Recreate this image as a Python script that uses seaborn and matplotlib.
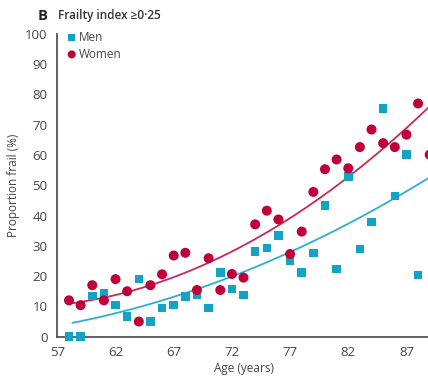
import numpy as np
import pandas as pd
import seaborn as sns
import matplotlib
matplotlib.use("Agg")
import matplotlib.pyplot as plt

# ---- data ----
men_age = [58, 59, 60, 61, 62, 63, 64, 65, 66, 67, 68, 69, 70, 71, 72, 73, 74, 75,
           76, 77, 78, 79, 80, 81, 82, 83, 84, 85, 86, 87, 88]
men_frail = [0, 0, 13.5, 14.4, 10.4, 6.7, 19.0, 5.0, 9.5, 10.4, 13.3, 13.9, 9.5, 21.2,
             15.8, 13.7, 28.1, 29.3, 33.5, 25.2, 21.1, 27.7, 43.3, 22.3, 52.8, 28.9,
             37.9, 75.3, 46.5, 60.1, 20.3]
women_age = [58, 59, 60, 61, 62, 63, 64, 65, 66, 67, 68, 69, 70, 71, 72, 73, 74, 75,
             76, 77, 78, 79, 80, 81, 82, 83, 84, 85, 86, 87, 88, 89]
women_frail = [12.0, 10.4, 17.0, 12.0, 19.0, 15.0, 5.0, 17.0, 20.6, 26.8, 27.7, 15.4,
               25.9, 15.4, 20.7, 19.5, 37.1, 41.6, 38.7, 27.3, 34.7, 47.8, 55.3, 58.5,
               55.6, 62.6, 68.4, 63.9, 62.6, 66.7, 77.0, 60.1]
x_ticks = [57, 62, 67, 72, 77, 82, 87]
y_ticks = [0, 10, 20, 30, 40, 50, 60, 70, 80, 90, 100]

men = pd.DataFrame({"age": men_age, "frail": men_frail})
women = pd.DataFrame({"age": women_age, "frail": women_frail})

MEN_C = "#13a3c4"
WOMEN_C = "#c0003a"
TXT = "#444444"

sns.set_style("white")
plt.rcParams["font.family"] = ["Open Sans", "DejaVu Sans"]

fig = plt.figure(figsize=(4.28, 3.80), dpi=100)
ax = fig.add_axes([0.134, 0.114, 0.870, 0.797])
ax.set_xlim(57, 89)
ax.set_ylim(0, 100)

# fitted curves
sns.regplot(data=women, x="age", y="frail", order=2, ci=None, scatter=False,
            truncate=True, ax=ax, line_kws=dict(color="#c8285a", lw=1.3))
sns.regplot(data=men, x="age", y="frail", order=2, ci=None, scatter=False,
            truncate=False, ax=ax, line_kws=dict(color="#2cb0cc", lw=1.3))
# start men's curve at first age like the reference
ln = ax.lines[-1]
xd, yd = ln.get_xdata(), ln.get_ydata()
keep = np.asarray(xd) >= men_age[0]
ln.set_data(np.asarray(xd)[keep], np.asarray(yd)[keep])

sns.scatterplot(data=men, x="age", y="frail", marker="s", s=38, color=MEN_C,
                edgecolor="none", ax=ax, label="Men", clip_on=False, zorder=3)
sns.scatterplot(data=women, x="age", y="frail", marker="o", s=52, color=WOMEN_C,
                edgecolor="none", ax=ax, label="Women", zorder=3)
ax.set_xlim(57, 89)
ax.set_ylim(0, 100)

ax.set_xticks(x_ticks)
ax.set_yticks(y_ticks)
ax.tick_params(axis="both", direction="out", length=5, width=1.2, color="#555555",
               labelsize=9.5, labelcolor=TXT, pad=2)
for s in ["top", "right"]:
    ax.spines[s].set_visible(False)
for s in ["left", "bottom"]:
    ax.spines[s].set_color("#555555")
    ax.spines[s].set_linewidth(1.3)

ax.set_xlabel("Age (years)", fontsize=8.5, color=TXT, labelpad=2)
ax.set_ylabel("Proportion frail (%)", fontsize=8.5, color=TXT, labelpad=4)

leg = ax.legend(loc="upper left", bbox_to_anchor=(0.01, 1.025), frameon=False,
                fontsize=8.5, handletextpad=0.1, labelspacing=0.3, borderaxespad=0,
                handlelength=1.0, markerscale=0.8)
for t in leg.get_texts():
    t.set_color(TXT)

fig.text(0.088, 0.958, "B", fontsize=10.5, fontweight="bold", color="#222222",
         va="center")
fig.text(0.135, 0.958, "Frailty index ≥0·25", fontsize=8.5, fontweight="semibold",
         color="#333333", va="center")

fig.savefig("out.png", dpi=100)
